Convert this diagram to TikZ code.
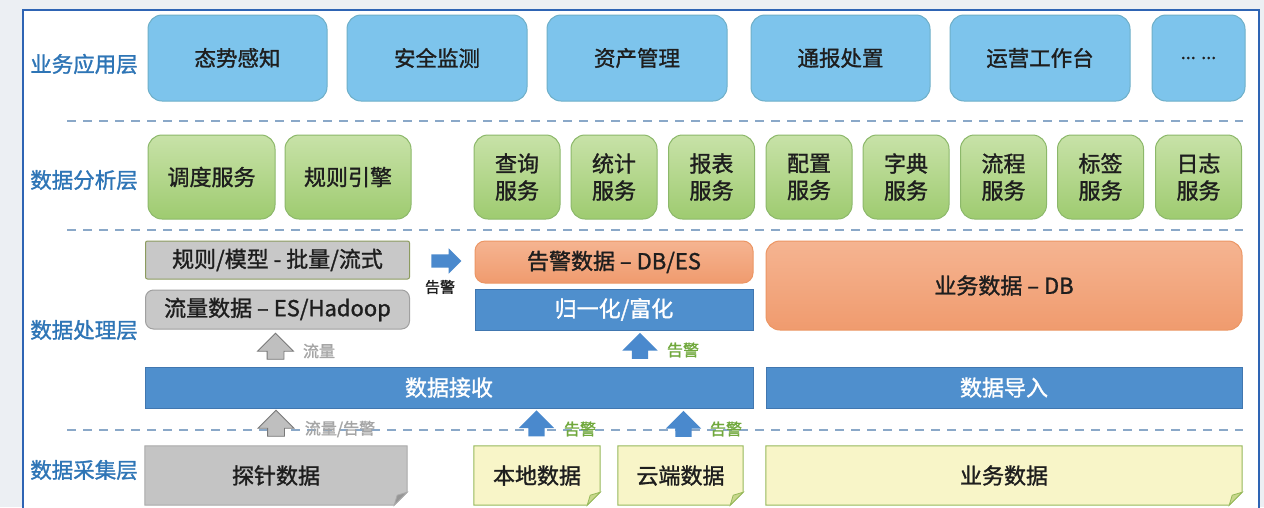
\documentclass[tikz,border=0pt]{standalone}
\usepackage{fontspec}
\setmainfont{Noto Sans CJK SC}[FakeBold=1.3]
\usetikzlibrary{shapes.arrows}
\definecolor{pagebg}{RGB}{236,239,243}
\definecolor{framec}{RGB}{46,100,180}
\definecolor{layerblue}{RGB}{46,117,182}
\definecolor{txtdark}{RGB}{30,30,30}
\definecolor{appfill}{RGB}{125,196,236}
\definecolor{appdraw}{RGB}{110,175,200}
\definecolor{svctop}{RGB}{200,226,168}
\definecolor{svcbot}{RGB}{158,203,112}
\definecolor{svcdraw}{RGB}{140,184,106}
\definecolor{grayfill}{RGB}{200,200,200}
\definecolor{graydraw}{RGB}{160,160,160}
\definecolor{olivedraw}{RGB}{140,155,95}
\definecolor{ortop}{RGB}{245,180,145}
\definecolor{orbot}{RGB}{240,155,110}
\definecolor{ordraw}{RGB}{236,150,100}
\definecolor{bluebar}{RGB}{79,143,205}
\definecolor{bluebardraw}{RGB}{65,119,176}
\definecolor{notefill}{RGB}{248,245,200}
\definecolor{notedraw}{RGB}{150,185,90}
\definecolor{notefold}{RGB}{200,215,140}
\definecolor{probefill}{RGB}{196,196,196}
\definecolor{probedraw}{RGB}{170,170,170}
\definecolor{probefold}{RGB}{150,150,150}
\definecolor{sepc}{RGB}{138,168,200}
\definecolor{greenlbl}{RGB}{112,168,60}
\definecolor{graylbl}{RGB}{165,165,165}
\definecolor{arrgray}{RGB}{191,191,191}
\definecolor{arrgraydraw}{RGB}{120,120,120}
\definecolor{arrblue}{RGB}{74,137,205}
\pgfdeclarelayer{back}
\pgfdeclarelayer{mid}
\pgfsetlayers{back,mid,main}
\newcommand\foldnote[4]{%
  \begin{pgfonlayer}{mid}
  \draw[fill=#2,draw=#3,line width=1pt] (#1.north west) -- (#1.north east) -- ([yshift=13pt]#1.south east) -- ([xshift=-13pt]#1.south east) -- (#1.south west) -- cycle;
  \draw[fill=#4,draw=#3,line width=0.8pt] ([yshift=13pt]#1.south east) -- ([xshift=-13pt]#1.south east) -- ([xshift=-10pt,yshift=10pt]#1.south east) -- cycle;
  \end{pgfonlayer}}
\begin{document}
\begin{tikzpicture}[x=1pt,y=-1pt,
  layer/.style={text=layerblue, font=\fontsize{21.5}{24}\selectfont, inner sep=0},
  appbox/.style={draw=appdraw, fill=appfill, rounded corners=14pt, line width=1pt, minimum height=86pt, text=txtdark, font=\fontsize{21.5}{24}\selectfont, inner sep=0},
  svcbox/.style={draw=svcdraw, top color=svctop, bottom color=svcbot, rounded corners=14pt, line width=1pt, minimum height=84pt, minimum width=86pt, align=center, text=txtdark, font=\fontsize{22}{27}\selectfont, inner sep=0},
  graybox/.style={fill=grayfill, line width=1pt, text=txtdark, font=\fontsize{22}{24}\selectfont, inner sep=0},
  orbox/.style={draw=ordraw, top color=ortop, bottom color=orbot, rounded corners=10pt, line width=1pt, text=txtdark, font=\fontsize{22}{24}\selectfont, inner sep=0},
  bar/.style={fill=bluebar, draw=bluebardraw, line width=0.8pt, text=white, font=\fontsize{22}{24}\selectfont, inner sep=0},
  notebox/.style={text=txtdark, font=\fontsize{22}{24}\selectfont, inner sep=0, minimum height=59pt},
  sep/.style={sepc, line width=2pt, dash pattern=on 9pt off 7pt},
  uparrow/.style={single arrow, shape border rotate=90, minimum height=26pt, inner sep=8pt, single arrow head extend=9.5pt},
  grayarr/.style={uparrow, fill=arrgray, draw=arrgraydraw, line width=0.8pt},
  bluearr/.style={uparrow, fill=arrblue},
  glbl/.style={text=greenlbl, font=\fontsize{16}{18}\selectfont, inner sep=0},
  graylabel/.style={text=graylbl, font=\fontsize{16}{18}\selectfont, inner sep=0}
]
\useasboundingbox (0,0) rectangle (1264,507);
\begin{pgfonlayer}{back}
\fill[pagebg] (0,0) rectangle (1264,507);
\draw[fill=white, draw=framec, line width=2.5pt] (23,10) rectangle (1259,525);
\end{pgfonlayer}

% layer labels
\node[layer] (l1) at (84,64) {业务应用层};
\node[layer] (l2) at (84,180) {数据分析层};
\node[layer] (l3) at (84,330) {数据处理层};
\node[layer] (l4) at (84,470) {数据采集层};

% separators
\draw[sep] (67,121) -- (1243,121);
\draw[sep] (67,230) -- (1243,230);
\begin{pgfonlayer}{mid}
\draw[sep] (67,430) -- (1243,430);
\end{pgfonlayer}

% application layer
\node[appbox, minimum width=179pt] (a1) at (237.5,58) {态势感知};
\node[appbox, minimum width=180pt] (a2) at (437,58) {安全监测};
\node[appbox, minimum width=180pt] (a3) at (637,58) {资产管理};
\node[appbox, minimum width=179pt] (a4) at (840.5,58) {通报处置};
\node[appbox, minimum width=180pt] (a5) at (1040,58) {运营工作台};
\node[appbox, minimum width=93pt] (a6) at (1198.5,58) {\fontsize{18}{20}\selectfont ... ...};

% analysis layer
\node[svcbox, minimum width=127pt] (s1) at (211.5,177) {调度服务};
\node[svcbox, minimum width=126pt] (s2) at (348,177) {规则引擎};
\node[svcbox] (s3) at (517,177) {查询\\服务};
\node[svcbox] (s4) at (614,177) {统计\\服务};
\node[svcbox] (s5) at (711.5,177) {报表\\服务};
\node[svcbox] (s6) at (809,177) {配置\\服务};
\node[svcbox] (s7) at (906,177) {字典\\服务};
\node[svcbox] (s8) at (1003.5,177) {流程\\服务};
\node[svcbox] (s9) at (1100.5,177) {标签\\服务};
\node[svcbox] (s10) at (1198.5,177) {日志\\服务};

% processing layer
\node[graybox, draw=olivedraw, rounded corners=2pt, minimum width=264pt, minimum height=38pt] (rule) at (277.5,260) {规则/模型 - 批量/流式};
\node[graybox, draw=graydraw, rounded corners=8pt, minimum width=264pt, minimum height=39pt] (flow) at (277.5,309.5) {流量数据 – ES/Hadoop};
\node[orbox, minimum width=278pt, minimum height=42pt] (alarm) at (614,262) {告警数据 – DB/ES};
\node[bar, minimum width=278pt, minimum height=41pt] (norm) at (614,309.5) {归一化/富化};
\node[orbox, rounded corners=14pt, minimum width=476pt, minimum height=89pt] (bizdb) at (1004,285.5) {业务数据 – DB};
\node[bar, minimum width=608pt, minimum height=41pt] (recv) at (449,387.5) {数据接收};
\node[bar, minimum width=476pt, minimum height=41pt] (imp) at (1004,387.5) {数据导入};

% right arrow between rule and alarm
\node[single arrow, minimum height=30pt, inner sep=6.5pt, single arrow head extend=6pt, fill=arrblue] (rarr) at (443,261) {};
\node[text=txtdark, font=\fontsize{15}{16}\selectfont, inner sep=0] (rlbl) at (440,287) {告警};

% up arrows (processing)
\node[grayarr] (g1) at (275.5,350.5) {};
\node[graylabel] (g1l) at (319,351) {流量};
\node[bluearr] (b1) at (640,350) {};
\node[glbl] (b1l) at (683,350) {告警};

% collection layer notes
\node[notebox, minimum width=262pt] (probe) at (276,475.5) {探针数据};
\foldnote{probe}{probefill}{probedraw}{probefold}
\node[notebox, minimum width=126pt] (local) at (537,475.5) {本地数据};
\foldnote{local}{notefill}{notedraw}{notefold}
\node[notebox, minimum width=125pt] (cloud) at (680.5,475.5) {云端数据};
\foldnote{cloud}{notefill}{notedraw}{notefold}
\node[notebox, minimum width=476pt] (bizd) at (1004,475.5) {业务数据};
\foldnote{bizd}{notefill}{notedraw}{notefold}

% up arrows (collection)
\node[grayarr] (g2) at (276,427.5) {};
\node[graylabel] (g2l) at (340,429) {流量/告警};
\node[bluearr] (b2) at (536.5,427.5) {};
\node[glbl] (b2l) at (580,429) {告警};
\node[bluearr] (b3) at (683.5,428) {};
\node[glbl] (b3l) at (726,429) {告警};
\end{tikzpicture}
\end{document}
